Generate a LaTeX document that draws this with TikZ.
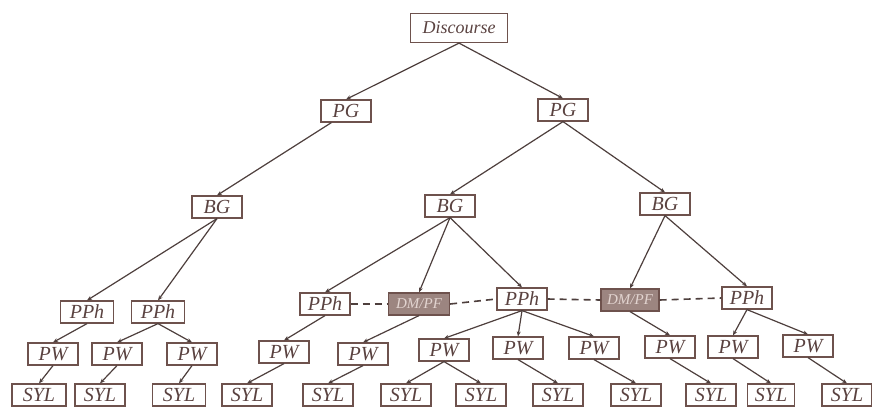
\documentclass[tikz,border=0pt]{standalone}
\usepackage{fontspec}
\setmainfont{Liberation Serif}
\usetikzlibrary{arrows.meta}
\definecolor{bord}{HTML}{6E524D}
\definecolor{edge}{HTML}{4E3F3D}
\definecolor{txt}{HTML}{5A4240}
\definecolor{dmfill}{HTML}{9C8580}
\definecolor{dmtxt}{HTML}{E2D4D0}
\tikzset{
  box/.style={draw=bord, line width=1.2pt, fill=white, text=txt, inner sep=1pt,
    minimum width=50pt, minimum height=22pt,
    font=\fontsize{20}{20}\selectfont\itshape},
  dmbox/.style={box, fill=dmfill, text=dmtxt, font=\fontsize{15}{15}\selectfont\itshape},
  arr/.style={draw=edge, line width=1.2pt, -{Stealth[length=5pt,width=4pt]}},
  dsh/.style={draw=edge, line width=1.6pt, dash pattern=on 7pt off 5pt},
}
\begin{document}
\begin{tikzpicture}[x=1pt,y=-1pt]
\useasboundingbox (0,0) rectangle (872,407);
\fill[white] (0,0) rectangle (872,407);
% level 0
\node[box, minimum width=97pt, minimum height=29pt, font=\fontsize{18}{18}\selectfont\itshape] (D) at (459,28) {Discourse};
% level 1
\node[box] (PGa) at (346,111) {PG};
\node[box] (PGb) at (563,110) {PG};
% level 2
\node[box] (BGa) at (217,207) {BG};
\node[box] (BGb) at (450,206) {BG};
\node[box] (BGc) at (665,204) {BG};
% level 3
\node[box, minimum width=53pt] (Ph1) at (87,312) {PPh};
\node[box, minimum width=53pt] (Ph2) at (158,312) {PPh};
\node[box] (Ph3) at (325,304) {PPh};
\node[dmbox, minimum width=61pt] (DM1) at (419,304) {DM/PF};
\node[box] (Ph4) at (522,299) {PPh};
\node[dmbox, minimum width=58pt] (DM2) at (630,300) {DM/PF};
\node[box] (Ph5) at (747,298) {PPh};
% level 4
\node[box] (W1) at (53,354) {PW};
\node[box] (W2) at (117,354) {PW};
\node[box] (W3) at (192,354) {PW};
\node[box] (W4) at (284,352) {PW};
\node[box] (W5) at (363,354) {PW};
\node[box] (W6) at (444,350) {PW};
\node[box] (W7) at (518,348) {PW};
\node[box] (W8) at (594,348) {PW};
\node[box] (W9) at (670,347) {PW};
\node[box] (W10) at (733,347) {PW};
\node[box] (W11) at (808,346) {PW};
% level 5
\node[box, minimum width=54pt] (S1) at (39,395) {SYL};
\node[box] (S2) at (100,395) {SYL};
\node[box, minimum width=53pt] (S3) at (179,395) {SYL};
\node[box] (S4) at (247,395) {SYL};
\node[box] (S5) at (328,395) {SYL};
\node[box] (S6) at (406,395) {SYL};
\node[box] (S7) at (481,395) {SYL};
\node[box] (S8) at (558,395) {SYL};
\node[box] (S9) at (636,395) {SYL};
\node[box] (S10) at (711,395) {SYL};
\node[box, minimum width=47pt] (S11) at (771,395) {SYL};
\node[box] (S12) at (847,395) {SYL};
% edges
\draw[arr] (D.south) -- (PGa.north);
\draw[arr] (D.south) -- (PGb.north);
\draw[arr] (PGa.south west) ++(11,0) coordinate (pa) (pa) -- (BGa.north);
\draw[arr] (PGb.south) -- (BGb.north);
\draw[arr] (PGb.south) -- (BGc.north);
\draw[arr] (BGa.south) -- (Ph1.north);
\draw[arr] (BGa.south) -- (Ph2.north);
\draw[arr] (BGb.south) -- (Ph3.north);
\draw[arr] (BGb.south) -- (DM1.north);
\draw[arr] (BGb.south) -- (Ph4.north);
\draw[arr] (BGc.south) -- (DM2.north);
\draw[arr] (BGc.south) -- (Ph5.north);
\draw[dsh] (Ph3.east) -- (DM1.west);
\draw[dsh] (DM1.east) -- (Ph4.west);
\draw[dsh] (Ph4.east) -- (DM2.west);
\draw[dsh] (DM2.east) -- (Ph5.west);
\draw[arr] (Ph1.south) -- (W1.north);
\draw[arr] (Ph2.south) -- (W2.north);
\draw[arr] (Ph2.south) -- (W3.north);
\draw[arr] (Ph3.south) -- (W4.north);
\draw[arr] (DM1.south) -- (W5.north);
\draw[arr] (Ph4.south) -- (W6.north);
\draw[arr] (Ph4.south) -- (W7.north);
\draw[arr] (Ph4.south) -- (W8.north);
\draw[arr] (DM2.south) -- (W9.north);
\draw[arr] (Ph5.south) -- (W10.north);
\draw[arr] (Ph5.south) -- (W11.north);
\draw[arr] (W1.south) -- (S1.north);
\draw[arr] (W2.south) -- (S2.north);
\draw[arr] (W3.south) -- (S3.north);
\draw[arr] (W4.south) -- (S4.north);
\draw[arr] (W5.south) -- (S5.north);
\draw[arr] (W6.south) -- (S6.north);
\draw[arr] (W6.south) -- (S7.north);
\draw[arr] (W7.south) -- (S8.north);
\draw[arr] (W8.south) -- (S9.north);
\draw[arr] (W9.south) -- (S10.north);
\draw[arr] (W10.south) -- (S11.north);
\draw[arr] (W11.south) -- (S12.north);
\end{tikzpicture}
\end{document}
